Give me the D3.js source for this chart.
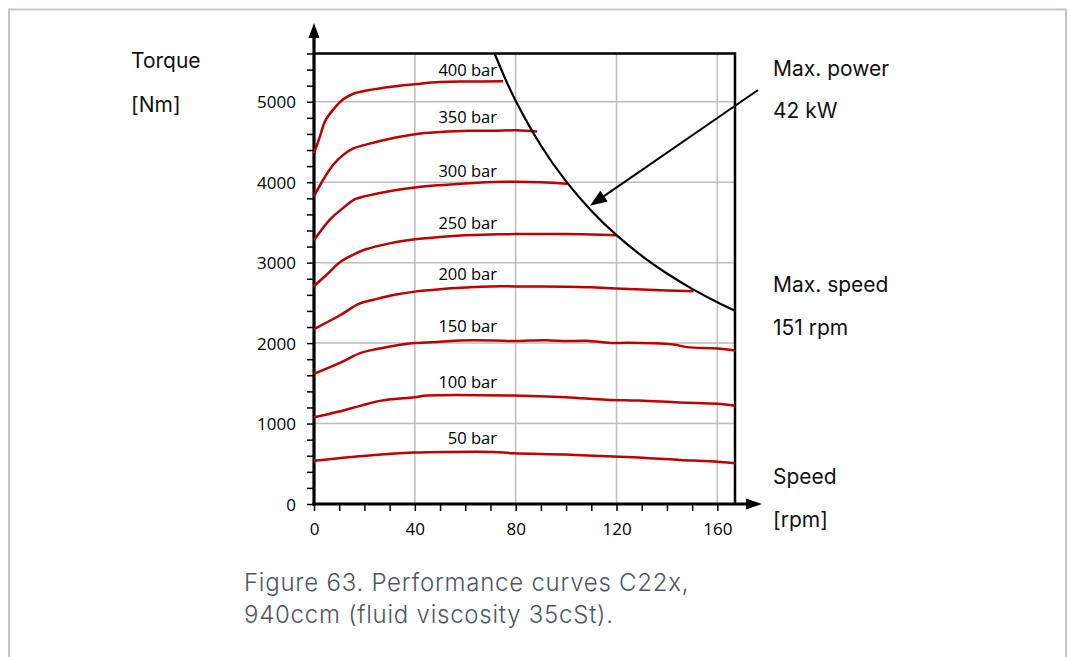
<!DOCTYPE html>
<html><head><meta charset="utf-8">
<script src="https://cdn.jsdelivr.net/npm/d3@7"></script>
<style>
html,body{margin:0;padding:0;background:#fff;}
svg{display:block;}
</style></head>
<body>
<svg id="chart" width="1068" height="657"></svg>
<script>
// ---------- data ----------
const xTicks = [0, 40, 80, 120, 160];
const yTicks = [0, 1000, 2000, 3000, 4000, 5000];
const seriesNames = ["400 bar", "350 bar", "300 bar", "250 bar", "200 bar", "150 bar", "100 bar", "50 bar"];

const rpm400 = [0, 2.4, 4.4, 7.7, 11.6, 15.6, 20.9, 31.5, 40.8, 50, 60, 75];
const nm400  = [4360, 4573, 4760, 4905, 5030, 5100, 5140, 5190, 5221, 5245, 5252, 5254];

const rpm350 = [0, 3.7, 7.7, 11.6, 15.6, 20.9, 31.5, 40.8, 50, 61, 71, 80.5, 88.5];
const nm350  = [3826, 4034, 4221, 4340, 4420, 4470, 4550, 4600, 4623, 4640, 4640, 4645, 4630];

const rpm300 = [0, 6.3, 11.6, 16.3, 20.9, 31.5, 40.8, 50, 65, 76.6, 90, 100.4];
const nm300  = [3280, 3536, 3681, 3790, 3830, 3897, 3938, 3963, 3993, 4005, 4000, 3980];

const rpm250 = [0, 5, 10, 15, 20, 30, 40, 50, 60, 70, 80, 100, 110, 120.2];
const nm250  = [2710, 2850, 3000, 3090, 3160, 3240, 3290, 3320, 3340, 3350, 3355, 3355, 3350, 3341];

const rpm200 = [0, 10, 18, 25, 32, 40, 50, 60, 70, 80, 100, 110, 125, 140, 150.5];
const nm200  = [2175, 2340, 2490, 2550, 2600, 2640, 2670, 2690, 2705, 2705, 2700, 2693, 2673, 2655, 2645];

const rpm150 = [0, 10, 18.3, 24.9, 30.2, 40, 50, 58, 71, 80, 92, 100, 108, 119, 124, 142.6, 148, 160, 167];
const nm150  = [1618, 1750, 1876, 1926, 1958, 2000, 2017, 2033, 2033, 2025, 2037, 2025, 2030, 2000, 2005, 1983, 1950, 1934, 1909];

const rpm100 = [0, 10, 18.3, 26.2, 40, 44.7, 79, 100, 116, 129, 145, 160, 167];
const nm100  = [1079, 1150, 1220, 1282, 1328, 1349, 1349, 1328, 1295, 1286, 1261, 1245, 1220];

const rpm50 = [0, 19.6, 40, 52.7, 71.2, 79, 100, 118.8, 132, 145.3, 157, 167];
const nm50  = [539, 598, 639, 647, 647, 631, 614, 589, 573, 548, 531, 506];

// Max. power line (42 kW)
const rpmPower = [71.6, 75, 80, 90, 100, 110, 120, 130, 140, 150, 160, 167];
const nmPower  = [5600, 5348, 5013, 4456, 4011, 3646, 3342, 3085, 2865, 2674, 2507, 2402];

// label anchors (data coordinates: right end speed, baseline torque)
const labelRpm = 72.6;
const labelNm = [5320, 4740, 4067, 3420, 2789, 2138, 1440, 747];

const rpmSeries = [rpm400, rpm350, rpm300, rpm250, rpm200, rpm150, rpm100, rpm50];
const nmSeries  = [nm400, nm350, nm300, nm250, nm200, nm150, nm100, nm50];

// ---------- drawing ----------
const svg = d3.select("#chart");
const W = 1068, H = 657;

// page frame
svg.append("path")
  .attr("d", `M9,${H+5} L9,9.5 L1066,9.5 L1066,${H+5}`)
  .attr("fill", "none").attr("stroke", "#c3c6ce").attr("stroke-width", 2);

const x = d3.scaleLinear().domain([0, 167]).range([314, 735]);
const y = d3.scaleLinear().domain([0, 5600]).range([504, 53.5]);

const tickFont = "'Open Sans', 'DejaVu Sans', sans-serif";
const labelFont = "Inter, 'Noto Sans', sans-serif";

// grid
const g = svg.append("g");
g.selectAll(".vg").data(xTicks.filter(d => d > 0)).join("line")
  .attr("x1", d => x(d)).attr("x2", d => x(d))
  .attr("y1", y(5600)).attr("y2", y(0))
  .attr("stroke", "#bdbdbd").attr("stroke-width", 1.5);
g.selectAll(".hg").data(yTicks.filter(d => d > 0)).join("line")
  .attr("x1", x(0)).attr("x2", x(167))
  .attr("y1", d => y(d)).attr("y2", d => y(d))
  .attr("stroke", "#bdbdbd").attr("stroke-width", 1.5);

// axes via d3 axis
const yAxis = d3.axisLeft(y).tickValues(d3.range(0, 5601, 200)).tickSize(7)
  .tickFormat(d => yTicks.includes(d) ? d : "");
const yG = svg.append("g").attr("transform", `translate(${x(0)},0)`).call(yAxis);
yG.select(".domain").remove();
yG.selectAll(".tick line").attr("stroke", "#000").attr("stroke-width", 1.5);
yG.selectAll(".tick text").attr("x", -18).attr("dy", "0.36em")
  .style("font-family", tickFont).style("font-size", "17px").attr("fill", "#000");

const xAxis = d3.axisBottom(x).tickValues(d3.range(0, 167, 10)).tickSize(7)
  .tickFormat(d => xTicks.includes(d) ? d : "");
const xG = svg.append("g").attr("transform", `translate(0,${y(0)})`).call(xAxis);
xG.select(".domain").remove();
xG.selectAll(".tick line").attr("stroke", "#000").attr("stroke-width", 1.5);
xG.selectAll(".tick text").attr("y", 0).attr("dy", "31px")
  .style("font-family", tickFont).style("font-size", "17px").attr("fill", "#000");

// plot frame top and right
svg.append("path")
  .attr("d", `M${x(0)},${y(5600)} L${x(167)},${y(5600)} L${x(167)},${y(0)}`)
  .attr("fill", "none").attr("stroke", "#000").attr("stroke-width", 2.5);

// main axis lines with arrows
svg.append("line").attr("x1", x(0)).attr("x2", x(0)).attr("y1", y(0) + 1.5).attr("y2", 36)
  .attr("stroke", "#000").attr("stroke-width", 3.2);
svg.append("path").attr("d", `M${x(0)},23 L${x(0)-5.5},38 L${x(0)+5.5},38 Z`).attr("fill", "#000");
svg.append("line").attr("x1", x(0) - 1.5).attr("x2", 748).attr("y1", y(0)).attr("y2", y(0))
  .attr("stroke", "#000").attr("stroke-width", 3.2);
svg.append("path").attr("d", `M762,${y(0)} L746,${y(0)-5.5} L746,${y(0)+5.5} Z`).attr("fill", "#000");

// red curves
const line = d3.line().x(d => x(d[0])).y(d => y(d[1])).curve(d3.curveCatmullRom.alpha(0.5));
seriesNames.forEach((name, i) => {
  const pts = rpmSeries[i].map((r, j) => [r, nmSeries[i][j]]);
  svg.append("path").attr("d", line(pts))
    .attr("fill", "none").attr("stroke", "#c00000").attr("stroke-width", 2.5)
    .attr("stroke-linejoin", "round");
  svg.append("text").attr("x", x(labelRpm)).attr("y", y(labelNm[i]))
    .attr("text-anchor", "end")
    .style("font-family", tickFont).style("font-size", "16.5px").attr("fill", "#000")
    .text(name);
});

// max power curve
const pPts = rpmPower.map((r, j) => [r, nmPower[j]]);
svg.append("path").attr("d", d3.line().x(d => x(d[0])).y(d => y(d[1])).curve(d3.curveNatural)(pPts))
  .attr("fill", "none").attr("stroke", "#000").attr("stroke-width", 2.2);

// pointer arrow
const ax1 = 758, ay1 = 90, ax2 = 590, ay2 = 205.7;
const ang = Math.atan2(ay2 - ay1, ax2 - ax1);
const hl = 17, hw = 6.5;
const bx = ax2 - hl * Math.cos(ang), by = ay2 - hl * Math.sin(ang);
svg.append("line").attr("x1", ax1).attr("y1", ay1).attr("x2", bx).attr("y2", by)
  .attr("stroke", "#000").attr("stroke-width", 2);
svg.append("path")
  .attr("d", `M${ax2},${ay2} L${bx + hw*Math.sin(ang)},${by - hw*Math.cos(ang)} L${bx - hw*Math.sin(ang)},${by + hw*Math.cos(ang)} Z`)
  .attr("fill", "#000");

// side labels
const side = [
  ["Torque", 131, 68], ["[Nm]", 131, 112],
  ["Max. power", 773, 76], ["42 kW", 773, 118],
  ["Max. speed", 773, 292], ["151 rpm", 773, 335],
  ["Speed", 773, 484], ["[rpm]", 773, 527]
];
svg.selectAll(".side").data(side).join("text")
  .attr("x", d => d[1]).attr("y", d => d[2])
  .style("font-family", labelFont).style("font-size", "21px").attr("fill", "#111")
  .text(d => d[0]);

// caption
const cap = svg.append("text").style("font-family", labelFont).style("font-size", "24px")
  .style("font-weight", 300).style("letter-spacing", "0.75px").attr("fill", "#50565d");
cap.append("tspan").attr("x", 244).attr("y", 591).text("Figure 63. Performance curves C22x,");
cap.append("tspan").attr("x", 244).attr("y", 623).text("940ccm (fluid viscosity 35cSt).");
</script>
</body></html>
